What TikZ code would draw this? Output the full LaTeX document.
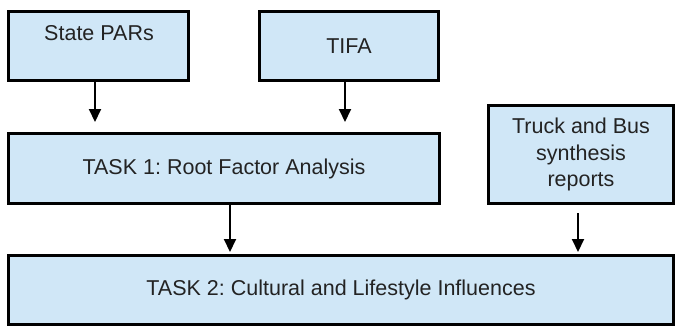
\documentclass[tikz,border=0pt]{standalone}
\usepackage{fontspec}
\setmainfont{Liberation Sans}
\usepackage{tikz}
\usetikzlibrary{arrows.meta}
\definecolor{boxfill}{RGB}{208,231,247}
\definecolor{boxtext}{RGB}{35,35,35}
\frenchspacing

\begin{document}
\begin{tikzpicture}[x=1pt, y=-1pt]
    \tikzstyle{box} = [rectangle, draw=black, line width=3pt, fill=boxfill, inner sep=0pt, text=boxtext, align=center, font=\fontsize{21.5}{26.5}\selectfont]
    \tikzstyle{label} = [inner sep=0pt, text=boxtext, font=\fontsize{21.5}{26.5}\selectfont]
    \tikzstyle{arr} = [line width=2pt, -{Triangle[length=13pt, width=12pt]}]
    \useasboundingbox (0,0) rectangle (675,327);
    % sources
    \node[box, minimum width=180pt, minimum height=69pt] (pars) at (98.5, 46) {};
    \node[label, anchor=base] (parsText) at (99, 40) {State PARs};
    \node[box, minimum width=179pt, minimum height=69pt] (tifa) at (349, 46) {TIFA};
    \node[box, minimum width=185pt, minimum height=98pt] (truck) at (581, 154.5) {Truck and Bus\\synthesis\\reports};
    % tasks
    \node[box, minimum width=431pt, minimum height=70pt] (task1) at (224, 168.5) {TASK 1: Root Factor Analysis};
    \node[box, minimum width=665pt, minimum height=69pt] (task2) at (341, 290) {TASK 2: Cultural and Lifestyle Influences};
    \draw[arr, shorten >=10pt] ([xshift=-3.5pt]pars.south) -- ([xshift=-3.5pt]pars.south |- task1.north);
    \draw[arr, shorten >=10pt] ([xshift=-4pt]tifa.south) -- ([xshift=-4pt]tifa.south |- task1.north);
    \draw[arr, shorten >=2pt] ([xshift=6pt]task1.south) -- ([xshift=6pt]task1.south |- task2.north);
    \draw[arr, shorten <=8pt, shorten >=2pt] ([xshift=-3pt]truck.south) -- ([xshift=-3pt]truck.south |- task2.north);
\end{tikzpicture}
\end{document}
